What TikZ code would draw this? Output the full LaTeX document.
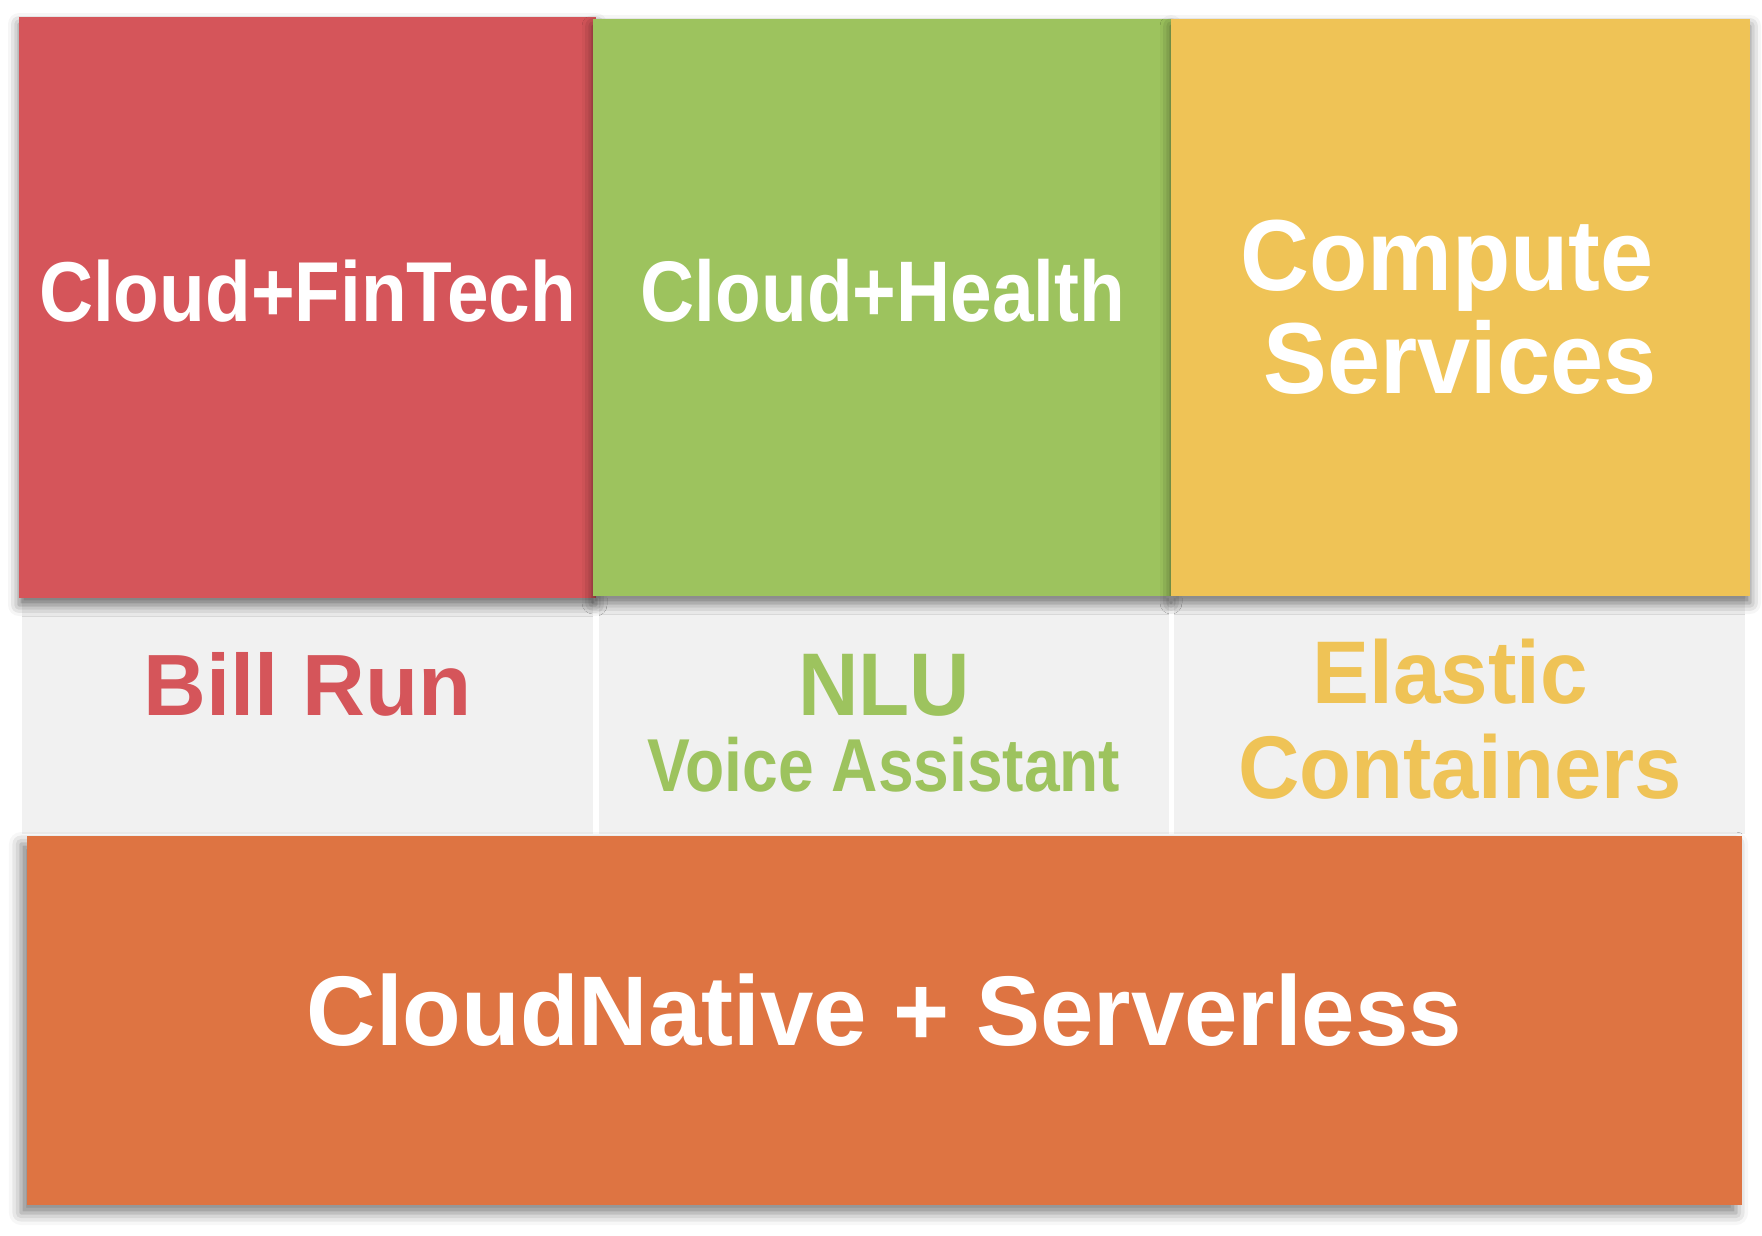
\documentclass[tikz,border=0pt]{standalone}
\usepackage{fontspec}
\setmainfont{Liberation Sans}
\usetikzlibrary{positioning,shadows.blur}

\newcommand{\narrow}[2]{\scalebox{#1}[1]{#2}}

\begin{document}
\begin{tikzpicture}[x=1pt,y=-1pt]
\definecolor{fintech red}{HTML}{D5555A}
\definecolor{health green}{HTML}{9DC35E}
\definecolor{compute yellow}{HTML}{EFC356}
\definecolor{native orange}{HTML}{DE7442}
\definecolor{cell gray}{HTML}{F1F1F1}
\tikzset{
     box/.style={inner sep=0pt, outer sep=0pt},
     tile/.style={box, minimum height=577pt,
        blur shadow={shadow xshift=0pt, shadow yshift=-7pt, shadow blur radius=11pt, shadow opacity=55}},
     cell/.style={box, fill=cell gray, minimum height=236pt},
     big/.style={anchor=base, inner sep=0pt, font=\bfseries\fontsize{#1}{#1}\selectfont}}

\useasboundingbox (0,0) rectangle (1762,1236);

% The middle row
\node (billcell) [cell, minimum width=571pt, anchor=north west] at (22,598) {};
\node (nlucell) [cell, minimum width=570pt, right=6pt of billcell] {};
\node (elasticcell) [cell, minimum width=571pt, right=5pt of nlucell] {};

% The bottom bar
\node (native) [box, fill=native orange, minimum width=1715pt, minimum height=369pt, anchor=north west,
   blur shadow={shadow xshift=-6pt, shadow yshift=-8pt, shadow blur radius=12pt, shadow opacity=50}] at (27,836) {};

% The top row
\node (fintech) [tile, fill=fintech red, minimum width=577pt, minimum height=581pt, anchor=north west] at (19,17) {};
\node (health) [tile, fill=health green, minimum width=578pt, right=-3pt of fintech] {};
\node (compute) [tile, fill=compute yellow, minimum width=579pt, right=0pt of health] {};

% The labels
\node (fintechtext) [big=85, text=white] at ([yshift=-13.5pt]fintech.center) {\narrow{0.88}{Cloud+FinTech}};
\node (healthtext) [big=86, text=white] at ([xshift=1pt, yshift=-13.5pt]health.center) {\narrow{0.87}{Cloud+Health}};
\node (computetext) [big=101, text=white] at ([xshift=-13.5pt, yshift=17.5pt]compute.center) {\narrow{0.945}{Compute}};
\node (servicestext) [big=101, text=white] at ([xshift=13pt, yshift=-103pt]computetext.base) {\narrow{0.945}{Services}};

\node (billtext) [big=87, text=fintech red] at ([yshift=1pt]billcell.center) {Bill Run};
\node (nlutext) [big=89, text=health green] at ([yshift=1pt]nlucell.center) {\narrow{0.94}{NLU}};
\node (voicetext) [big=75, text=health green] at ([yshift=-76pt]nlutext.base) {\narrow{0.855}{Voice Assistant}};
\node (elastictext) [big=89, text=compute yellow] at ([xshift=-9.5pt, yshift=13pt]elasticcell.center) {\narrow{0.96}{Elastic}};
\node (containerstext) [big=89, text=compute yellow] at ([xshift=10pt, yshift=-95pt]elastictext.base) {\narrow{0.955}{Containers}};

\node (nativetext) [big=99, text=white] at ([yshift=-24.5pt]native.center) {\narrow{0.97}{CloudNative + Serverless}};
\end{tikzpicture}
\end{document}
